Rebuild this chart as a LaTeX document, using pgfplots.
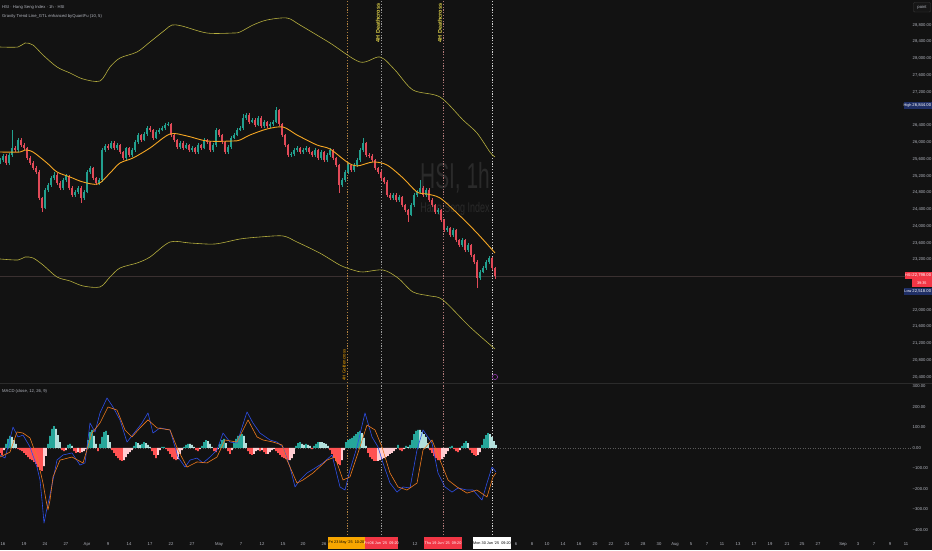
\documentclass[border=0pt]{standalone}
\usepackage{fontspec}
\setmainfont{Liberation Sans}
\usepackage{pgfplots}
\usepackage{pgfplotstable}
\pgfplotsset{compat=1.18}
\definecolor{bg}{HTML}{121212}
\definecolor{lab}{HTML}{B2B5BE}
\definecolor{upc}{HTML}{22A08F}
\definecolor{dnc}{HTML}{E04A58}
\definecolor{mac}{HTML}{F5A623}
\definecolor{band}{HTML}{B5AE3E}
\definecolor{hA}{HTML}{26A69A}
\definecolor{hB}{HTML}{B2DFDB}
\definecolor{hC}{HTML}{FF5252}
\definecolor{hD}{HTML}{FFCDD2}
\definecolor{mblue}{HTML}{2E4FE8}
\definecolor{morange}{HTML}{F07A1E}
\definecolor{wm}{HTML}{2A2A2A}
\definecolor{navy}{HTML}{1F2F66}
\definecolor{tvred}{HTML}{F23645}
\definecolor{tvorg}{HTML}{F7A600}
\definecolor{ylw}{HTML}{E3D54A}
\definecolor{sep}{HTML}{2B2B2B}
\definecolor{curl}{HTML}{3A3030}
\definecolor{vmA}{HTML}{B08040}
\definecolor{vmB}{HTML}{9A9A9A}
\definecolor{vmC}{HTML}{B07878}
\definecolor{vmD}{HTML}{D0D0D0}
\definecolor{purp}{HTML}{A040C0}
\definecolor{zl}{HTML}{5A5A5A}
\definecolor{pbd}{HTML}{3A3A3A}
\definecolor{pbf}{HTML}{161616}
\newcommand{\ui}{\fontsize{4.2}{5}\selectfont}
\newcommand{\uis}{\fontsize{3.8}{4.5}\selectfont}

\pgfplotstableread{
x o h l c
0 25540 25630 25490 25578
3 25578 25720 25530 25674
9 25507 25745 25460 25698
12 25698 26294 25650 25865
18 25817 26100 25770 26056
45 24433 24910 24400 24862
48 24862 25030 24820 24982
51 24982 25200 24940 25149
54 25149 25290 25100 25220
63 24910 25150 24870 25101
66 25101 25240 25060 25197
75 24743 24860 24700 24815
78 24815 24950 24770 24910
84 24672 24860 24630 24815
87 24815 25340 24780 25292
90 25292 25440 25250 25388
99 25030 25150 24990 25101
102 25101 25870 25060 25817
105 25817 25960 25780 25913
111 25865 26030 25830 25984
117 25865 25980 25820 25936
126 25626 25900 25590 25865
132 25698 25860 25660 25817
135 25817 26050 25780 26008
138 26008 26220 25970 26175
144 26056 26240 26020 26199
147 26199 26390 26160 26342
156 26103 26290 26070 26247
159 26247 26340 26210 26294
162 26294 26390 26260 26342
165 26342 26460 26300 26414
168 26414 26490 26380 26438
180 25889 26030 25850 25984
186 25865 25980 25830 25936
192 25817 25910 25780 25865
198 25769 25980 25730 25936
204 25865 26100 25830 26056
213 25817 25980 25780 25936
216 25936 26340 25900 26294
228 25769 25930 25730 25889
231 25889 26150 25850 26103
234 26103 26220 26070 26175
237 26175 26340 26140 26294
240 26294 26390 26260 26342
243 26342 26680 26300 26581
246 26581 26700 26540 26652
252 26485 26580 26450 26533
258 26414 26630 26380 26581
264 26390 26530 26350 26485
270 26390 26490 26350 26438
273 26438 26530 26400 26485
276 26485 26844 26450 26772
291 25698 25770 25660 25720
294 25720 25860 25680 25817
297 25817 25910 25780 25865
303 25769 25860 25730 25817
306 25817 25910 25780 25865
315 25698 25860 25660 25817
321 25626 25810 25590 25769
327 25578 25740 25540 25698
330 25698 25860 25660 25817
342 24982 25150 24940 25101
345 25101 25340 25060 25292
348 25292 25500 25250 25459
354 25340 25500 25300 25459
357 25459 25620 25420 25578
360 25578 25860 25540 25817
363 25817 26103 25780 25984
393 24672 24790 24630 24743
399 24624 24740 24580 24695
411 24266 24550 24230 24504
414 24504 24790 24460 24743
417 24743 24860 24700 24815
420 24815 25100 24770 24910
426 24743 24900 24700 24862
438 24337 24430 24290 24385
447 23908 24000 23870 23956
453 23788 23950 23750 23908
462 23550 23710 23510 23669
468 23430 23590 23390 23550
480 22762 22950 22720 22905
483 22905 23050 22870 23001
486 23001 23190 22960 23144
489 23144 23290 23100 23240
}\upT

\pgfplotstableread{
x o h l c
6 25674 25720 25460 25507
15 25865 25915 25770 25817
21 26056 26100 25890 25936
24 25936 25980 25820 25865
27 25865 25900 25580 25626
30 25626 25670 25460 25507
33 25507 25550 25340 25388
36 25388 25430 25245 25292
39 25292 25330 24620 24672
42 24672 24700 24337 24433
57 25220 25260 24980 25030
60 25030 25070 24860 24910
69 25197 25230 24860 24910
72 24910 24950 24690 24743
81 24910 24950 24560 24672
93 25388 25420 25100 25149
96 25149 25180 24980 25030
108 25913 25950 25820 25865
114 25984 26020 25820 25865
120 25936 25970 25720 25769
123 25769 25800 25580 25626
129 25865 25900 25650 25698
141 26175 26210 26010 26056
150 26342 26380 26250 26294
153 26294 26330 26060 26103
171 26438 26470 26130 26175
174 26175 26210 26010 26056
177 26056 26090 25840 25889
183 25984 26020 25820 25865
189 25936 25970 25770 25817
195 25865 25900 25720 25769
201 25936 25970 25820 25865
207 26056 26090 25960 26008
210 26008 26040 25770 25817
219 26294 26330 26130 26175
222 26175 26210 25960 26008
225 26008 26040 25720 25769
249 26652 26690 26440 26485
255 26533 26570 26370 26414
261 26581 26620 26340 26390
267 26485 26520 26340 26390
279 26772 26800 26390 26438
282 26438 26470 26130 26175
285 26175 26210 25890 25936
288 25936 25970 25650 25698
300 25865 25900 25720 25769
309 25865 25900 25720 25769
312 25769 25800 25650 25698
318 25817 25850 25580 25626
324 25769 25800 25530 25578
333 25817 25850 25580 25626
336 25626 25660 25410 25459
339 25459 25490 24790 24982
351 25459 25490 25290 25340
366 25984 26010 25650 25698
369 25698 25740 25630 25674
372 25674 25710 25530 25578
375 25578 25610 25340 25388
378 25388 25420 25245 25292
381 25292 25330 25100 25149
384 25149 25180 25000 25053
387 25053 25090 24690 24743
390 24743 24780 24620 24672
396 24743 24780 24570 24624
402 24695 24730 24450 24504
405 24504 24540 24330 24385
408 24385 24420 24110 24266
423 24910 24950 24700 24743
429 24862 24900 24570 24624
432 24624 24660 24450 24504
435 24504 24540 24290 24337
441 24385 24420 24100 24146
444 24146 24180 23860 23908
450 23956 23990 23740 23788
456 23908 23940 23620 23669
459 23669 23700 23500 23550
465 23669 23700 23380 23430
471 23550 23580 23260 23311
474 23311 23340 23090 23144
477 23144 23180 22518 22762
492 23240 23270 22950 23001
495 23001 23030 22750 22798
}\dnT

\pgfplotstableread{
x v
6 20
8 44
10 59
48 20
50 59
52 93
54 107
68 15
70 20
88 39
90 78
92 88
100 20
102 54
104 78
106 83
134 10
136 29
142 20
144 29
162 5
164 5
184 5
186 15
188 20
202 10
204 29
206 39
220 20
222 39
224 44
234 24
236 44
238 59
240 63
242 68
296 10
298 24
300 29
306 20
314 10
316 20
318 29
346 29
348 39
350 44
352 49
354 59
356 68
358 78
360 83
398 15
406 10
410 15
412 39
414 68
416 83
418 88
450 5
452 10
462 10
464 24
466 34
482 15
484 44
486 63
488 73
}\hAT

\pgfplotstableread{
x v
12 54
14 39
16 20
56 93
58 63
60 29
72 10
94 59
96 20
108 63
110 29
138 24
140 15
146 24
148 15
150 5
190 20
192 15
194 5
208 34
210 20
212 5
226 24
244 59
246 24
302 20
304 15
308 15
310 10
320 29
322 29
324 24
326 20
328 10
362 73
364 49
366 10
408 5
420 88
422 78
424 68
426 54
428 24
468 24
490 68
492 54
494 34
496 15
}\hBT

\pgfplotstableread{
x v
0 -24
2 -34
18 -5
20 -10
22 -15
24 -24
26 -34
28 -44
30 -54
32 -59
34 -68
36 -78
38 -93
40 -107
42 -112
62 -10
64 -15
74 -15
76 -24
80 -24
98 -15
112 -10
114 -24
116 -39
118 -49
120 -59
122 -63
152 -15
154 -34
156 -49
166 -5
168 -15
170 -29
172 -44
174 -54
176 -59
196 -10
198 -15
214 -15
216 -20
228 -15
230 -29
248 -15
250 -29
252 -34
260 -15
264 -20
266 -29
276 -15
278 -24
280 -34
282 -44
284 -49
286 -54
288 -59
312 -5
330 -10
332 -29
334 -49
336 -63
338 -78
340 -83
368 -24
370 -44
372 -54
374 -63
376 -63
400 -10
402 -15
430 -10
432 -24
434 -39
436 -49
438 -59
440 -59
454 -5
456 -15
458 -20
470 -10
472 -24
474 -34
476 -39
}\hCT

\pgfplotstableread{
x v
4 -10
44 -88
46 -39
66 -10
78 -20
82 -20
84 -15
86 -5
124 -59
126 -44
128 -29
130 -20
132 -10
158 -34
160 -10
178 -54
180 -29
182 -10
200 -5
218 -5
232 -10
254 -29
256 -15
258 -10
262 -10
268 -29
270 -20
272 -10
274 -5
290 -59
292 -49
294 -29
342 -59
344 -10
378 -63
380 -59
382 -54
384 -49
386 -44
388 -39
390 -29
392 -24
394 -15
396 -5
404 -5
442 -54
444 -44
446 -29
448 -15
460 -10
478 -34
480 -20
}\hDT

\begin{document}
\begin{tikzpicture}
\useasboundingbox (0pt,0pt) rectangle (932pt,550pt);
\fill[bg] (0pt,0pt) rectangle (932pt,550pt);
% watermark
\node[text=wm, font=\fontsize{36}{36}\selectfont, xscale=0.58] at (455pt,372pt) {HSI, 1h};
\node[text=wm, font=\fontsize{14}{14}\selectfont, xscale=0.64] at (455pt,341pt) {Hang Seng Index};

% ---------------- main price pane ----------------
\begin{axis}[at={(0pt,167pt)}, anchor=south west, scale only axis,
  width=911pt, height=383pt,
  xmin=0, xmax=911, ymin=20256, ymax=29397,
  axis line style={draw=none}, major tick length=0pt,
  xtick=\empty, scaled y ticks=false,
  ytick={20400,20800,21200,21600,22000,23200,23600,24000,24400,24800,25200,25600,26000,26400,27200,27600,28000,28400,28800},
  yticklabels={{20,400.00},{20,800.00},{21,200.00},{21,600.00},{22,000.00},{23,200.00},{23,600.00},{24,000.00},{24,400.00},{24,800.00},{25,200.00},{25,600.00},{26,000.00},{26,400.00},{27,200.00},{27,600.00},{28,000.00},{28,400.00},{28,800.00}},
  yticklabel pos=right,
  yticklabel style={font=\ui, text=lab, anchor=west, inner sep=1.5pt},
  clip=true]
% current price line
\addplot[color=curl, line width=0.4pt] coordinates {(0,22798) (911,22798)};
% vertical markers
\addplot[color=vmA, line width=0.45pt, dash pattern=on 1.2pt off 1.6pt] coordinates {(347,20256) (347,29397)};
\addplot[color=vmB, line width=0.45pt, dash pattern=on 1.2pt off 1.6pt] coordinates {(381,20256) (381,29397)};
\addplot[color=vmC, line width=0.45pt, dash pattern=on 1.2pt off 1.6pt] coordinates {(443,20256) (443,29397)};
\addplot[color=vmD, line width=0.45pt, dash pattern=on 1.2pt off 1.6pt] coordinates {(492,20256) (492,29397)};
% bands
\addplot[color=band, line width=0.6pt, smooth, tension=0.5] coordinates {
(0,28275) (18,28275) (25,28371) (33,28323) (43,28084) (57,27798) (70,27655) (83,27512) (100,27464) (110,27798) (120,28013) (137,28156) (150,28395) (165,28681) (172,28800) (182,28776) (207,28609) (233,28609) (240,28633) (253,28800) (267,28920) (287,28967) (300,28800) (330,28371) (360,27917) (380,28037) (395,27726) (413,27249) (440,27082) (463,26534) (477,26223) (490,25766) (495,25650)};
\addplot[color=band, line width=0.6pt, smooth, tension=0.5] coordinates {
(0,23216) (18,23192) (25,23263) (33,23240) (43,23073) (57,22786) (70,22691) (83,22572) (100,22548) (110,22786) (120,23001) (137,23120) (150,23263) (170,23621) (190,23597) (215,23574) (240,23693) (260,23741) (283,23765) (297,23621) (320,23355) (340,23069) (353,22953) (363,22906) (383,22953) (398,22762) (413,22428) (430,22333) (443,22237) (470,21593) (495,21068)};
% candles: wicks
\addplot[draw=none, mark=none, error bars/.cd, y dir=plus, y explicit, error mark=none,
  error bar style={draw=upc, solid, line width=0.45pt}]
  table[x=x, y=l, y error plus expr=\thisrow{h}-\thisrow{l}] \upT;
\addplot[draw=none, mark=none, error bars/.cd, y dir=plus, y explicit, error mark=none,
  error bar style={draw=dnc, solid, line width=0.45pt}]
  table[x=x, y=l, y error plus expr=\thisrow{h}-\thisrow{l}] \dnT;
% candles: bodies
\addplot[draw=none, mark=none, error bars/.cd, y dir=plus, y explicit, error mark=none,
  error bar style={draw=upc, solid, line width=1.6pt}]
  table[x=x, y=o, y error plus expr=\thisrow{c}-\thisrow{o}] \upT;
\addplot[draw=none, mark=none, error bars/.cd, y dir=plus, y explicit, error mark=none,
  error bar style={draw=dnc, solid, line width=1.6pt}]
  table[x=x, y=c, y error plus expr=\thisrow{o}-\thisrow{c}] \dnT;
% moving average
\addplot[color=mac, line width=0.9pt, smooth, tension=0.5] coordinates {
(0,25769) (20,25769) (25,25817) (33,25769) (47,25507) (57,25292) (70,25173) (83,25053) (98,25006) (110,25268) (120,25507) (133,25626) (150,25865) (170,26199) (187,26151) (207,26032) (233,26032) (240,26056) (250,26175) (267,26318) (283,26366) (297,26175) (317,25936) (330,25841) (347,25531) (357,25435) (373,25531) (387,25459) (403,25149) (417,24815) (427,24767) (440,24672) (457,24313) (477,23836) (495,23359)};
\addplot[only marks, mark=o, mark size=2.6pt, color=purp, line width=0.5pt] coordinates {(495,20400)};
\end{axis}

% ---------------- MACD pane ----------------
\begin{axis}[at={(0pt,15pt)}, anchor=south west, scale only axis,
  width=911pt, height=151pt,
  xmin=0, xmax=911, ymin=-424.4, ymax=312.2,
  axis line style={draw=none}, major tick length=0pt,
  scaled y ticks=false,
  ytick={-400,-300,-200,-100,0,100,200,300},
  yticklabels={−400.00,−300.00,−200.00,−100.00,0.00,100.00,200.00,300.00},
  yticklabel pos=right,
  yticklabel style={font=\ui, text=lab, anchor=west, inner sep=1.5pt},
  xtick={3,24,45,66,87,108,129,150,171,192,219,241,262,283,303,324,415,516,532,547,563,579,595,611,627,643,659,675,691,707,722,738,754,770,787,802,818,843,858,874,890,906},
  xticklabels={16,19,24,27,Apr,9,14,17,22,27,May,7,12,15,20,26,12,6,8,10,14,16,20,22,24,28,30,Aug,5,7,11,13,17,19,21,25,27,Sep,3,7,9,11},
  xticklabel style={font=\ui, text=lab, yshift=-4.5pt},
  clip=true]
\addplot[color=zl, line width=0.4pt, dash pattern=on 1pt off 1.5pt] coordinates {(0,0) (911,0)};
\addplot[color=vmA, line width=0.45pt, dash pattern=on 1.2pt off 1.6pt] coordinates {(347,-424.4) (347,312.2)};
\addplot[color=vmB, line width=0.45pt, dash pattern=on 1.2pt off 1.6pt] coordinates {(381,-424.4) (381,312.2)};
\addplot[color=vmC, line width=0.45pt, dash pattern=on 1.2pt off 1.6pt] coordinates {(443,-424.4) (443,312.2)};
\addplot[color=vmD, line width=0.45pt, dash pattern=on 1.2pt off 1.6pt] coordinates {(492,-424.4) (492,312.2)};
\addplot[ybar, bar width=1.6pt, bar shift=0pt, fill=hA, draw=none] table[x=x, y=v] \hAT;
\addplot[ybar, bar width=1.6pt, bar shift=0pt, fill=hB, draw=none] table[x=x, y=v] \hBT;
\addplot[ybar, bar width=1.6pt, bar shift=0pt, fill=hC, draw=none] table[x=x, y=v] \hCT;
\addplot[ybar, bar width=1.6pt, bar shift=0pt, fill=hD, draw=none] table[x=x, y=v] \hDT;
\addplot[color=mblue, line width=0.6pt, line join=round] coordinates {
(0,-34) (5,-49) (13,102) (18,54) (23,63) (30,5) (37,-93) (40,-156) (42,-254) (44,-366) (47,-293) (50,-229) (57,-59) (63,-34) (72,-24) (80,-83) (85,-73) (90,122) (95,78) (100,171) (107,244) (113,200) (120,137) (127,29) (135,78) (142,122) (148,171) (153,73) (160,98) (170,88) (178,-44) (185,-93) (190,-59) (197,-49) (203,-73) (210,-44) (217,-10) (223,73) (230,29) (237,24) (247,176) (253,122) (260,73) (270,39) (277,29) (283,5) (290,-93) (295,-190) (300,-156) (307,-122) (315,-98) (323,-73) (332,-34) (340,-190) (345,-205) (350,-107) (357,5) (365,171) (372,54) (378,5) (383,-73) (390,-171) (397,-215) (403,-190) (410,-195) (417,-10) (423,88) (432,24) (438,-122) (445,-190) (452,-215) (458,-195) (467,-205) (473,-205) (482,-254) (487,-171) (492,-93) (496,-117)};
\addplot[color=morange, line width=0.6pt, line join=round] coordinates {
(0,-44) (10,-20) (17,78) (23,73) (30,49) (37,-44) (43,-171) (46,-254) (48,-302) (50,-254) (53,-141) (60,-59) (72,-44) (83,-73) (92,73) (100,122) (108,200) (117,185) (125,88) (132,54) (140,98) (148,137) (157,98) (170,88) (178,-10) (187,-93) (197,-68) (207,-73) (217,-44) (225,39) (237,29) (248,137) (257,54) (263,39) (273,29) (282,15) (287,-59) (297,-171) (303,-156) (313,-122) (327,-59) (335,-44) (343,-156) (350,-141) (358,-24) (367,112) (375,88) (382,5) (390,-122) (398,-190) (407,-205) (417,-171) (423,-10) (432,39) (440,-59) (448,-156) (457,-190) (467,-220) (477,-205) (487,-239) (493,-141) (496,-122)};
\end{axis}

% pane separator
\draw[sep, line width=0.8pt] (0pt,166.5pt) -- (932pt,166.5pt);

% legends / titles
\node[anchor=west, text=lab, font=\ui, inner sep=0pt] at (2pt,543pt) {HSI · Hang Seng Index · 1h · HSI};
\node[anchor=west, text=lab, font=\ui, inner sep=0pt] at (2pt,534pt) {Gravity Trend Line\_GTL enhanced byQuantFu (10, 5)};
\node[anchor=west, text=lab, font=\ui, inner sep=0pt] at (2pt,159pt) {MACD (close, 12, 26, 9)};

% rotated signal labels
\node[rotate=90, text=ylw, font=\fontsize{5.5}{6}\selectfont\bfseries, inner sep=0pt] at (378pt,527pt) {4H Deathcross};
\node[rotate=90, text=ylw, font=\fontsize{5.5}{6}\selectfont\bfseries, inner sep=0pt] at (440pt,527pt) {4H Deathcross};
\node[rotate=90, text=tvorg, font=\fontsize{4.3}{5}\selectfont, inner sep=0pt] at (344pt,185pt) {4H Goldencross};

% price scale badges
\draw[rounded corners=1pt, draw=pbd, fill=pbf, line width=0.4pt] (913.5pt,538pt) rectangle (930.5pt,547.5pt);
\node[text=lab, font=\ui, inner sep=0pt] at (922pt,542.7pt) {point};

\fill[navy] (903.5pt,440.5pt) rectangle (911.8pt,448pt);
\node[text=white, font=\uis, inner sep=0pt] at (907.6pt,444.2pt) {High};
\fill[navy] (912.2pt,440.5pt) rectangle (931.5pt,448pt);
\node[text=white, font=\ui, inner sep=0pt] at (921.8pt,444.2pt) {26,844.00};

\fill[tvred] (905pt,271pt) rectangle (911.8pt,278pt);
\node[text=white, font=\uis, inner sep=0pt] at (908.4pt,274.5pt) {HSI};
\fill[tvred] (912.2pt,263.5pt) rectangle (931.5pt,278.5pt);
\node[text=white, font=\ui, inner sep=0pt] at (921.8pt,275pt) {22,798.00};
\node[text=white, font=\uis, inner sep=0pt] at (921.8pt,267.3pt) {39:35};

\fill[navy] (904pt,255pt) rectangle (911.8pt,262pt);
\node[text=white, font=\uis, inner sep=0pt] at (907.9pt,258.5pt) {Low};
\fill[navy] (912.2pt,255pt) rectangle (931.5pt,262pt);
\node[text=white, font=\ui, inner sep=0pt] at (921.8pt,258.5pt) {22,518.00};

% time axis badges
\fill[tvorg] (328pt,1pt) rectangle (365pt,13pt);
\node[text=black, font=\uis, inner sep=0pt] at (346.5pt,7pt) {Fri 23 May '25\ \ 10:20};
\fill[tvred] (365pt,1pt) rectangle (398pt,13pt);
\node[text=white, font=\uis, inner sep=0pt] at (381.5pt,7pt) {Fri 06 Jun '25\ \ 09:20};
\fill[tvred] (424pt,1pt) rectangle (462pt,13pt);
\node[text=white, font=\uis, inner sep=0pt] at (443pt,7pt) {Thu 19 Jun '25\ \ 09:20};
\fill[white] (473pt,1pt) rectangle (511pt,13pt);
\node[text=black, font=\uis, inner sep=0pt] at (492pt,7pt) {Mon 30 Jun '25\ \ 09:20};
\end{tikzpicture}
\end{document}
